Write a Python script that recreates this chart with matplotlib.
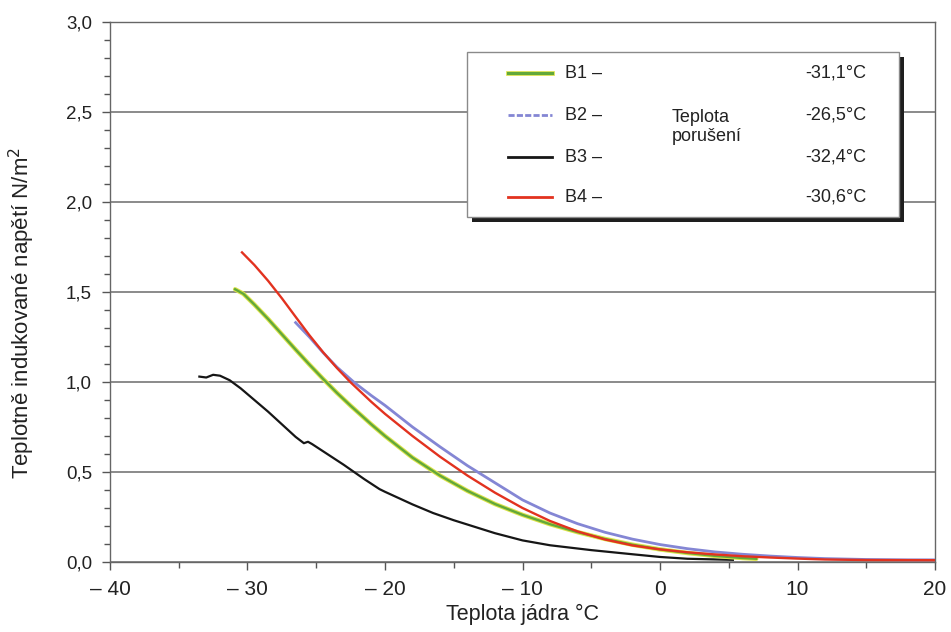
import matplotlib
matplotlib.use('Agg')
import matplotlib.pyplot as plt
from matplotlib.lines import Line2D
from matplotlib.patches import Rectangle
from matplotlib.ticker import MultipleLocator, FuncFormatter

plt.rcParams['font.family'] = ['Liberation Sans', 'DejaVu Sans']

# ---------------- data ----------------
series_names = ['B1 –', 'B2 –', 'B3 –', 'B4 –']
failure_temps = ['-31,1°C', '-26,5°C', '-32,4°C', '-30,6°C']
legend_note = 'Teplota\nporušení'

b1_x = [-30.9, -30.3, -29.5, -28.5, -27.5, -26.5, -25.5, -24.5, -23.5, -22.5, -21.0,
        -20.0, -18.0, -16.0, -14.0, -12.0, -10.0, -8.0, -6.0, -4.0, -2.0, 0.0, 2.0, 4.0, 6.0, 7.0]
b1_y = [1.515, 1.49, 1.43, 1.35, 1.265, 1.18, 1.097, 1.017, 0.94, 0.868, 0.765,
        0.70, 0.58, 0.48, 0.395, 0.322, 0.262, 0.21, 0.166, 0.128, 0.096, 0.07, 0.05, 0.034, 0.022, 0.018]

b2_x = [-26.5, -25.5, -24.5, -23.5, -22.2, -21.0, -20.0, -18.0, -16.0, -14.0, -12.0,
        -10.0, -8.0, -6.0, -4.0, -2.0, 0.0, 2.0, 4.0, 6.0, 8.0, 10.0, 12.0, 15.0, 18.0, 20.0]
b2_y = [1.33, 1.25, 1.163, 1.083, 0.995, 0.925, 0.87, 0.75, 0.64, 0.535, 0.44,
        0.345, 0.272, 0.213, 0.165, 0.127, 0.097, 0.074, 0.056, 0.043, 0.033, 0.025, 0.019, 0.014, 0.012, 0.012]

b3_x = [-33.5, -33.0, -32.5, -32.0, -31.3, -30.5, -29.5, -28.5, -27.5, -26.5, -25.9, -25.6,
        -25.3, -24.5, -23.0, -21.5, -20.4, -20.0, -18.0, -16.5, -15.0, -12.0, -10.0, -8.0,
        -5.0, -2.0, 0.0, 2.0, 5.3]
b3_y = [1.03, 1.025, 1.04, 1.035, 1.01, 0.965, 0.90, 0.835, 0.765, 0.695, 0.66, 0.668,
        0.655, 0.615, 0.54, 0.46, 0.405, 0.39, 0.32, 0.272, 0.232, 0.16, 0.12, 0.093,
        0.066, 0.043, 0.028, 0.018, 0.012]

b4_x = [-30.4, -29.5, -28.5, -27.5, -26.5, -25.5, -24.5, -23.5, -22.5, -21.0, -20.0,
        -18.0, -16.0, -14.0, -12.0, -10.0, -8.0, -6.0, -4.0, -2.0, 0.0, 2.0, 4.0, 6.0,
        8.0, 10.0, 12.0, 15.0, 20.0]
b4_y = [1.72, 1.65, 1.562, 1.465, 1.362, 1.26, 1.165, 1.078, 0.998, 0.89, 0.823,
        0.70, 0.585, 0.48, 0.385, 0.30, 0.228, 0.17, 0.125, 0.092, 0.07, 0.054, 0.042, 0.032,
        0.025, 0.019, 0.014, 0.011, 0.01]

# ---------------- styles ----------------
c_green = '#62a83a'
c_halo = '#dde34a'
c_blue = '#8486d4'
c_black = '#161616'
c_red = '#e2321f'
blue_legend_ls = (0, (2.2, 0.8))

W, H = 951, 632
fig = plt.figure(figsize=(W / 100, H / 100), dpi=100)
ax = fig.add_axes([110 / W, 1 - 562 / H, (935 - 110) / W, (562 - 22) / H])

ax.plot(b3_x, b3_y, color=c_black, lw=1.6, zorder=3)
ax.plot(b1_x, b1_y, color=c_halo, lw=3.2, zorder=3, solid_capstyle='round')
ax.plot(b1_x, b1_y, color=c_green, lw=1.7, zorder=4)
ax.plot(b2_x, b2_y, color=c_blue, lw=2.0, zorder=4)
ax.plot(b4_x, b4_y, color=c_red, lw=1.7, zorder=5)

ax.set_xlim(-40, 20)
ax.set_ylim(0, 3.0)
ax.xaxis.set_major_locator(MultipleLocator(10))
ax.xaxis.set_minor_locator(MultipleLocator(5))
ax.yaxis.set_major_locator(MultipleLocator(0.5))
ax.yaxis.set_minor_locator(MultipleLocator(0.1))
ax.xaxis.set_major_formatter(FuncFormatter(lambda v, p: f'– {abs(int(round(v)))}' if v < 0 else f'{int(round(v))}'))
ax.yaxis.set_major_formatter(FuncFormatter(lambda v, p: f'{v:.1f}'.replace('.', ',')))

ax.tick_params(axis='both', which='major', color='#555555', length=6, width=1,
               labelcolor='#222222')
ax.tick_params(axis='both', which='minor', color='#555555', length=4, width=1)
ax.tick_params(axis='x', which='major', labelsize=15, pad=7)
ax.tick_params(axis='y', which='major', labelsize=13.5, pad=7)

for s in ax.spines.values():
    s.set_color('#666666')
    s.set_linewidth(1.0)

ax.yaxis.grid(True, which='major', color='#8a8a8a', lw=1.4)
ax.set_axisbelow(True)

ax.set_xlabel('Teplota jádra °C', fontsize=15.5, color='#222222')
ax.xaxis.set_label_coords(0.5, -0.077)
ax.set_ylabel('Teplotně indukované napětí N/m$^2$', fontsize=16, color='#222222')
ax.yaxis.set_label_coords(-0.0885, 0.461)

# ---------------- legend box ----------------
def fx(px):
    return px / W

def fy(py):
    return 1 - py / H

bx0, by0, bx1, by1 = 467, 52, 899, 217
shadow = Rectangle((fx(bx0 + 5), fy(by1 + 5)), fx(bx1 - bx0), (by1 - by0) / H,
                   transform=fig.transFigure, facecolor='#1e1e1e', edgecolor='none', zorder=9)
box = Rectangle((fx(bx0), fy(by1)), fx(bx1 - bx0), (by1 - by0) / H,
                transform=fig.transFigure, facecolor='white', edgecolor='#8a8a8a', lw=1.0, zorder=10)
fig.add_artist(shadow)
fig.add_artist(box)

row_y = [73, 115, 157, 197]
styles = [dict(color=c_green, lw=2.2, ls='-'),
          dict(color=c_blue, lw=2.0, ls=blue_legend_ls),
          dict(color=c_black, lw=2.0, ls='-'),
          dict(color=c_red, lw=2.0, ls='-')]
for name, temp, ry, st in zip(series_names, failure_temps, row_y, styles):
    if st['color'] == c_green:
        fig.add_artist(Line2D([fx(508), fx(552)], [fy(ry), fy(ry)], transform=fig.transFigure,
                              color=c_halo, lw=3.4, zorder=11))
    fig.add_artist(Line2D([fx(508), fx(552)], [fy(ry), fy(ry)], transform=fig.transFigure,
                          zorder=12, **st))
    fig.text(fx(565), fy(ry), name, fontsize=13, va='center', ha='left', color='#222222', zorder=12)
    fig.text(fx(866), fy(ry), temp, fontsize=13, va='center', ha='right', color='#222222', zorder=12)

fig.text(fx(672), fy(127), legend_note, fontsize=13, va='center', ha='left', color='#222222',
         linespacing=1.15, zorder=12)

fig.savefig('out.png', dpi=100)
